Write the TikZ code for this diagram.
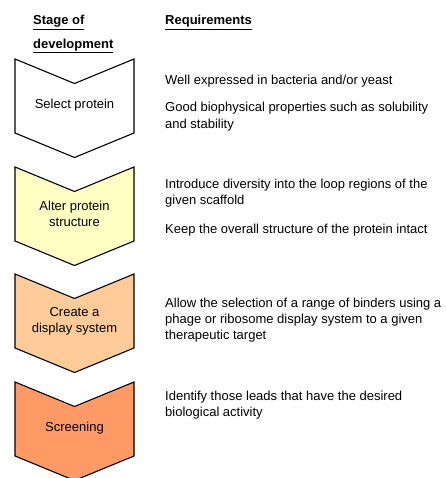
\documentclass[tikz,border=0pt]{standalone}
\usepackage{fontspec}
\setmainfont{Liberation Sans}
\begin{document}
\begin{tikzpicture}[x=1pt,y=-1pt,
  chev/.style={draw=black,line width=1.1pt,line join=miter},
  lbl/.style={font=\fontsize{13}{16.3}\selectfont,align=center,inner sep=0pt},
  req/.style={font=\fontsize{13}{16.3}\selectfont,align=left,inner sep=0pt,anchor=west},
  hdr/.style={font=\fontsize{13}{16}\selectfont\bfseries,inner sep=0pt,anchor=west}]
\useasboundingbox (0,0) rectangle (445,478);
\clip (0,0) rectangle (445,478);
\definecolor{cA}{HTML}{FFFFFF}
\definecolor{cB}{HTML}{FFFFC4}
\definecolor{cC}{HTML}{FFCC99}
\definecolor{cD}{HTML}{FF9966}
% headers
\node[hdr] (h1) at (33,22.5) {\underline{Stage of}};
\node[hdr] (h2) at (33,46) {\underline{development}};
\node[hdr] (h3) at (165,22.5) {\underline{Requirements}};
% chevrons
\foreach \t/\c in {59/cA,167/cB,274/cC,382/cD}{
  \filldraw[chev,fill=\c] (15,\t) -- (74.5,\t+24.5) -- (134,\t) -- (134,\t+74) -- (74.5,\t+98.5) -- (15,\t+74) -- cycle;
}
\node[lbl] (s1) at (74.5,105.5) {Select protein};
\node[lbl] (s2) at (74.5,214) {Alter protein\\structure};
\node[lbl] (s3) at (74.5,321) {Create a\\display system};
\node[lbl] (s4) at (74.5,428.5) {Screening};
% requirements
\node[req] (r1) at (165,81) {Well expressed in bacteria and/or yeast};
\node[req] (r2) at (165,116.5) {Good biophysical properties such as solubility\\and stability};
\node[req] (r3) at (165,193) {Introduce diversity into the loop regions of the\\given scaffold};
\node[req] (r4) at (165,230) {Keep the overall structure of the protein intact};
\node[req] (r5) at (165,320) {Allow the selection of a range of binders using a\\phage or ribosome display system to a given\\therapeutic target};
\node[req] (r6) at (165,405) {Identify those leads that have the desired\\biological activity};
\end{tikzpicture}
\end{document}
